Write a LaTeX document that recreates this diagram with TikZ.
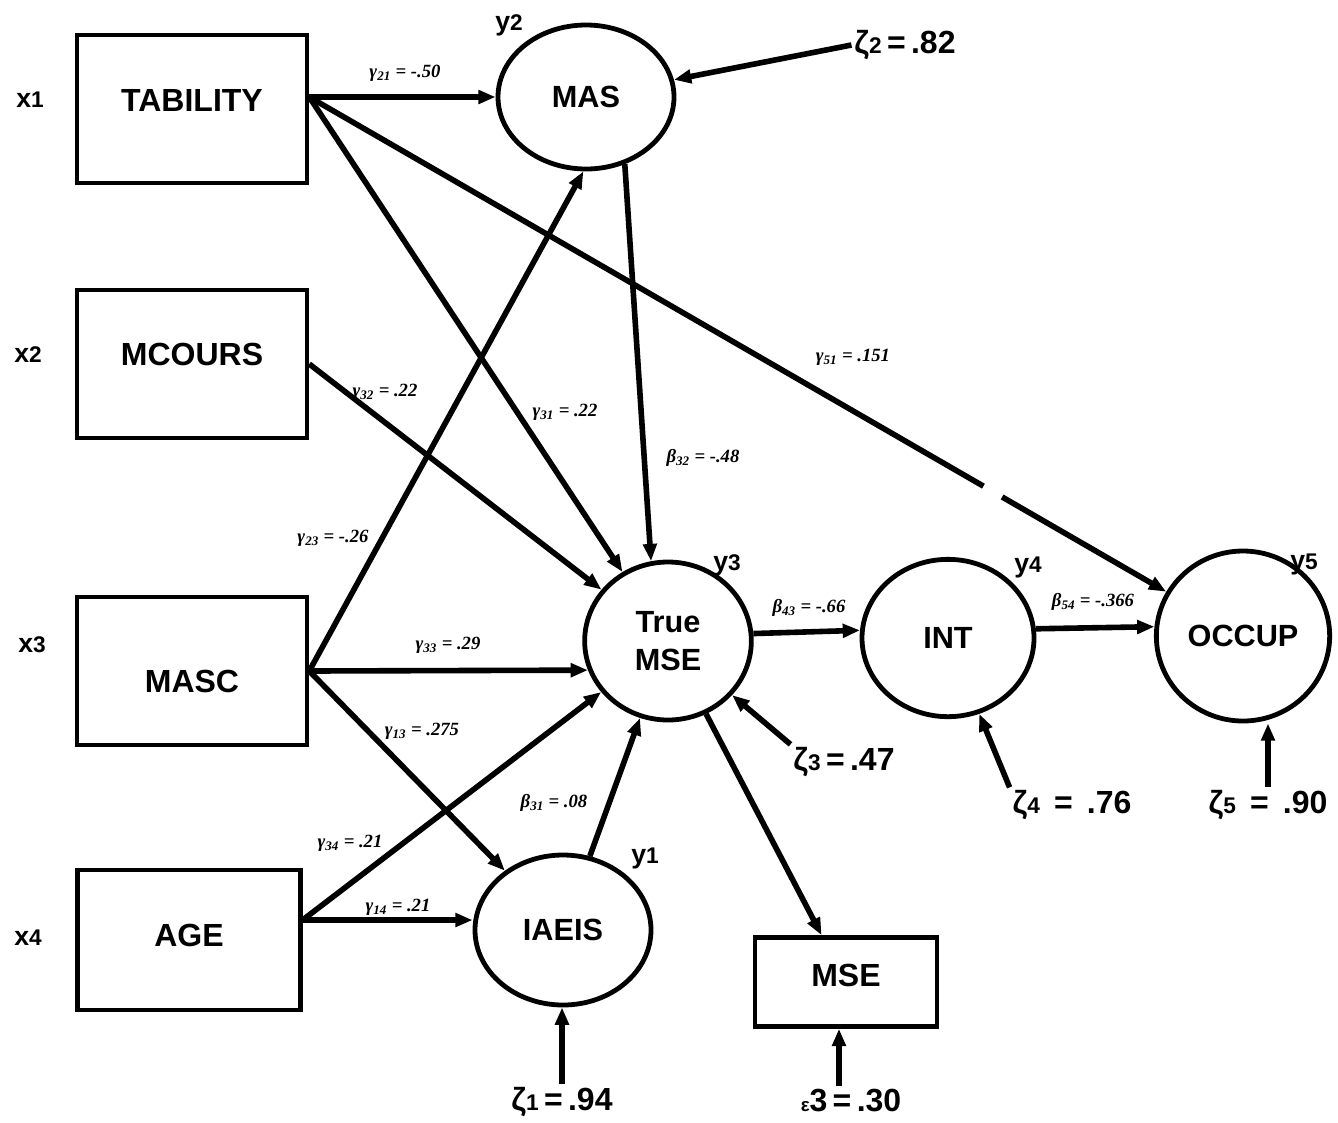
\documentclass[tikz,border=0pt]{standalone}
\usepackage{fontspec}
\setmainfont{Liberation Sans}
\newfontfamily\coeffont{Liberation Serif}
\usetikzlibrary{arrows.meta,shapes.geometric,calc}
\newcommand\idx[1]{{\fontsize{17}{17}\selectfont #1}}
% text set with its baseline #1 away from the node centre
\newcommand\placed[2]{\raisebox{#1}[0pt][0pt]{#2}}
\begin{document}
\begin{tikzpicture}[x=0.75pt,y=-0.75pt,
  box/.style={draw,line width=3.4pt,inner sep=0pt,
    font=\bfseries\fontsize{24}{26}\selectfont},
  latent/.style={draw,ellipse,line width=3.6pt,inner sep=0pt,align=center,
    font=\bfseries\fontsize{23}{28}\selectfont},
  link/.style={line width=4.2pt},
  path/.style={link,-{Triangle[length=13pt,width=10pt]}},
  coef/.style={font=\coeffont\bfseries\itshape\fontsize{14}{15}\selectfont,inner sep=1pt},
  varlab/.style={font=\bfseries\fontsize{20}{22}\selectfont,inner sep=1pt},
  err/.style={font=\bfseries\fontsize{24}{26}\selectfont,inner sep=2pt}]
\useasboundingbox (0,0) rectangle (1338,1122);

% observed exogenous variables
\node[box,minimum width=172.5pt,minimum height=111pt] (tab) at (192,109) {\placed{-1.5pt}{TABILITY}};
\node[box,minimum width=172.5pt,minimum height=111pt] (mcours) at (192,364) {\placed{-1pt}{MCOURS}};
\node[box,minimum width=172.5pt,minimum height=111pt] (masc) at (192,671) {\placed{-16pt}{MASC}};
\node[box,minimum width=167pt,minimum height=105pt] (age) at (189,940) {\placed{-5pt}{AGE}};
\node[varlab] (x1) at (30,100) {x\idx{1}};
\node[varlab] (x2) at (28,355) {x\idx{2}};
\node[varlab] (x3) at (32,645) {x\idx{3}};
\node[varlab] (x4) at (28,938) {x\idx{4}};

% latent endogenous variables
\node[latent,minimum width=132pt,minimum height=108pt] (mas) at (586,97) {MAS};
\node[latent,minimum width=125pt,minimum height=118.5pt] (tmse) at (668,641) {True\\MSE};
\node[latent,minimum width=129pt,minimum height=118pt] (int) at (948,638) {INT};
\node[latent,minimum width=130pt,minimum height=127.5pt] (occup) at (1243,636) {OCCUP};
\node[latent,minimum width=132pt,minimum height=112.5pt] (iaeis) at (563,930) {IAEIS};
\node[box,minimum width=136.5pt,minimum height=66.75pt] (mse) at (846,982) {\placed{-3.5pt}{MSE}};

\node[varlab] (y2) at (509,25) {y\idx{2}};
\node[varlab] (y3) at (727,565) {y\idx{3}};
\node[varlab] (y4) at (1028,567) {y\idx{4}};
\node[varlab] (y5) at (1304,564) {y\idx{5}};
\node[varlab] (y1) at (645,858) {y\idx{1}};

% disturbance terms
\node[err] (z2) at (905,45) {ζ\idx{2}\,=\,.82};
\node[err] (z3) at (844,762) {ζ\idx{3}\,=\,.47};
\node[err] (z4) at (1072,805) {ζ\idx{4}\, = \,.76};
\node[err] (z5) at (1268,805) {ζ\idx{5}\, = \,.90};
\node[err] (z1) at (562,1102) {ζ\idx{1}\,=\,.94};
\node[err] (e3) at (851,1100) {{\fontsize{14}{14}\selectfont ε}3\,=\,.30};

% connector start points
\coordinate (tabout) at ([yshift=9pt]tab.east);
\coordinate (ageout) at ([yshift=15pt]age.east);
\coordinate (e3src) at ([xshift=-9pt]e3.north);

% structural paths
\draw[path] (tabout) -- (mas);
\draw[path] (tabout) -- (tmse);
\draw[link] (tabout) -- ($(tabout)!0.722!(occup)$);
\draw[path] ($(tabout)!0.742!(occup)$) -- (occup);
\draw[path] (mcours.east) -- (tmse);
\draw[path] (masc.east) -- (mas.-92);
\draw[path] (masc.east) -- (tmse.200);
\draw[path] (masc.east) -- (iaeis);
\draw[path] (ageout) -- (tmse);
\draw[path] (ageout) -- (ageout -| iaeis.west);
\draw[path] (iaeis) -- (tmse);
\draw[path] (mas.-60) -- (tmse.102);
\draw[path] (tmse.5) -- (int.175);
\draw[path] (int.6) -- (occup.174);
\draw[path] (tmse) -- (mse);

% disturbance arrows
\draw[path] (z2.west) -- (mas);
\draw[path] (z3.north west) -- (tmse);
\draw[path] (z4.north west) -- (int);
\draw[path] (z5.north) -- (z5.north |- occup.south);
\draw[path] (z1.north) -- (z1.north |- iaeis.south);
\draw[path] (e3src) -- (e3src |- mse.south);

% path coefficients
\node[coef] (g21) at (405,73) {γ\textsubscript{21} = -.50};
\node[coef] (g32) at (385,392) {γ\textsubscript{32} = .22};
\node[coef] (g31) at (565,412) {γ\textsubscript{31} = .22};
\node[coef] (b32) at (703,458) {β\textsubscript{32} = -.48};
\node[coef] (g51) at (853,357) {γ\textsubscript{51} = .151};
\node[coef] (g23) at (333,538) {γ\textsubscript{23} = -.26};
\node[coef] (g33) at (448,645) {γ\textsubscript{33} = .29};
\node[coef] (g13) at (422,731) {γ\textsubscript{13} = .275};
\node[coef] (b31) at (554,803) {β\textsubscript{31} = .08};
\node[coef] (g34) at (350,843) {γ\textsubscript{34} = .21};
\node[coef] (g14) at (398,907) {γ\textsubscript{14} = .21};
\node[coef] (b43) at (809,608) {β\textsubscript{43} = -.66};
\node[coef] (b54) at (1093,602) {β\textsubscript{54} = -.366};
\end{tikzpicture}
\end{document}
